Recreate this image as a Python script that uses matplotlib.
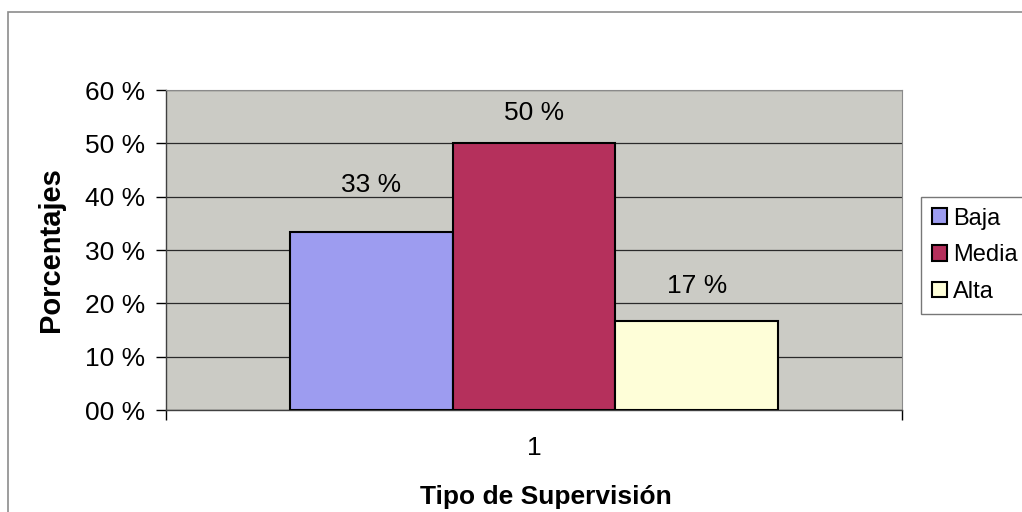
import matplotlib.pyplot as plt
import numpy as np
from matplotlib.patches import Rectangle
from matplotlib.ticker import FixedLocator, FuncFormatter

plt.rcParams['font.family'] = ['Liberation Sans', 'DejaVu Sans']

# data
series = ['Baja', 'Media', 'Alta']
values = [33.33, 50.0, 16.67]
labels = ['33 %', '50 %', '17 %']
bar_colors = ['#9d9cf0', '#b5305c', '#fefed8']
yticks = [0, 10, 20, 30, 40, 50, 60]
category = '1'


def main():
    fig = plt.figure(figsize=(10.22, 5.12), dpi=100)
    fig.patch.set_facecolor('white')

    # outer chart frame (runs off the right and bottom edges)
    fig.patches.append(Rectangle((8 / 1022, -0.05), 1.1, 0.05 + (512 - 12) / 512,
                                 transform=fig.transFigure, fill=False,
                                 edgecolor='#8c8c8c', linewidth=1.2))

    ax = fig.add_axes([166 / 1022, 1 - 410 / 512, 736 / 1022, 320 / 512])
    ax.set_facecolor('#cbcbc5')

    group = 0.664
    w = group / len(series)
    offsets = (np.arange(len(series)) - (len(series) - 1) / 2) * w
    label_lift = [34, 22, 25]  # points above the bar top (as placed in the original)
    for i, (name, v, c, lab) in enumerate(zip(series, values, bar_colors, labels)):
        x = 1 + offsets[i]
        ax.bar(x, v, width=w, color=c, edgecolor='black', linewidth=1.5,
               label=name, zorder=3)
        ax.annotate(lab, (x, v), xytext=(0, label_lift[i]), textcoords='offset points',
                    ha='center', va='center', fontsize=19, zorder=4)

    ax.set_xlim(0.5, 1.5)
    ax.set_ylim(0, 60)
    ax.yaxis.set_major_locator(FixedLocator(yticks))
    ax.yaxis.set_major_formatter(FuncFormatter(lambda v, p: f'{int(v):02d} %'))
    ax.set_xticks([1])
    ax.set_xticklabels([category])
    ax.xaxis.set_minor_locator(FixedLocator([0.5, 1.5]))
    ax.tick_params(axis='x', which='major', length=0, labelsize=19, pad=19)
    ax.tick_params(axis='x', which='minor', length=7, width=1, direction='out')
    ax.tick_params(axis='y', length=7, width=1, direction='out', labelsize=19, pad=8)

    ax.grid(axis='y', color='#2a2a2a', linewidth=0.9, zorder=1)
    for s in ['top', 'right']:
        ax.spines[s].set_color('#8a8a8a')
        ax.spines[s].set_linewidth(0.8)
    for s in ['left', 'bottom']:
        ax.spines[s].set_color('#404040')
        ax.spines[s].set_linewidth(1.0)

    ax.set_xlabel('Tipo de Supervisión', fontsize=19, fontweight='bold')
    ax.xaxis.set_label_coords(0.516, -0.234)
    ax.set_ylabel('Porcentajes', fontsize=21, fontweight='bold', labelpad=14)

    leg = fig.legend(loc='upper left', bbox_to_anchor=(921 / 1022, 1 - 197 / 512),
                     fontsize=17, frameon=True, fancybox=False, edgecolor='#555555',
                     handlelength=0.65, handleheight=0.65, handletextpad=0.25,
                     labelspacing=0.62, borderpad=0.45, borderaxespad=0)
    leg.get_frame().set_linewidth(1.0)
    for h in leg.legend_handles:
        h.set_linewidth(1.5)

    fig.savefig('out.png', dpi=100, facecolor='white')
    plt.close(fig)


if __name__ == '__main__':
    main()
